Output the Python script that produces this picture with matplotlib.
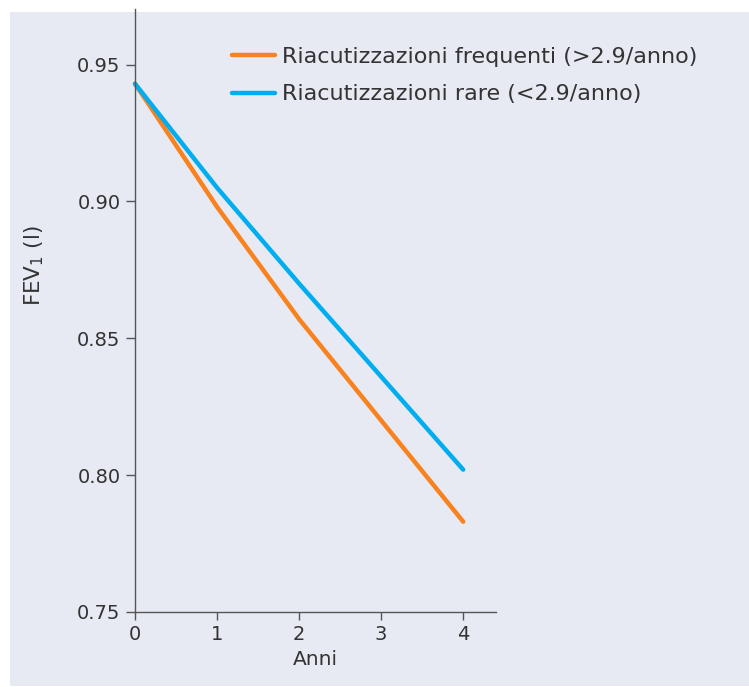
import matplotlib
matplotlib.use("Agg")
import matplotlib.pyplot as plt
from matplotlib.patches import Rectangle

# data
anni = [0, 1, 2, 3, 4]
fev_frequenti = [0.943, 0.898, 0.857, 0.820, 0.783]
fev_rare = [0.943, 0.905, 0.870, 0.836, 0.802]
label_frequenti = "Riacutizzazioni frequenti (>2.9/anno)"
label_rare = "Riacutizzazioni rare (<2.9/anno)"
y_ticks = [0.75, 0.80, 0.85, 0.90, 0.95]

W, H = 749, 687
txt = "#333333"
bg = "#e7e9f3"

plt.rcParams['font.family'] = ['DejaVu Sans']
plt.rcParams['mathtext.fontset'] = 'dejavusans'

fig = plt.figure(figsize=(W / 100, H / 100), dpi=100)
fig.patch.set_facecolor("white")

ax = fig.add_axes([135 / W, 1 - 612 / H, (496 - 135) / W, (612 - 9) / H])
ax.set_facecolor("none")
ax.set_zorder(2)

# lavender panel behind the plot
fig.patches.append(Rectangle((10 / W, 1 - 686 / H), (W - 10) / W, (686 - 12) / H,
                             transform=fig.transFigure, facecolor=bg,
                             edgecolor="none", zorder=-10))

ax.plot(anni, fev_frequenti, color="#f7821e", lw=3.2, label=label_frequenti,
        solid_capstyle="round", clip_on=False)
ax.plot(anni, fev_rare, color="#00aeef", lw=3.2, label=label_rare,
        solid_capstyle="round", clip_on=False)

ax.set_xlim(0, 4.4)
ax.set_ylim(0.75, 0.9703)
ax.set_xticks(anni)
ax.set_yticks(y_ticks)
ax.set_yticklabels([f"{v:.2f}" for v in y_ticks])

for s in ("top", "right"):
    ax.spines[s].set_visible(False)
for s in ("left", "bottom"):
    ax.spines[s].set_color("#555555")
    ax.spines[s].set_linewidth(1.0)

ax.tick_params(axis="x", direction="out", length=6, width=1, colors="#555555",
               labelcolor=txt, labelsize=14, pad=3)
ax.tick_params(axis="y", direction="out", length=6.5, width=1, colors="#555555",
               labelcolor=txt, labelsize=14, pad=4)

ax.set_xlabel("Anni", fontsize=14.5, color=txt, labelpad=5)
ax.set_ylabel("FEV$_1$ (l)", fontsize=15.5, color=txt, va="center")
ax.yaxis.set_label_coords((34.5 - 135) / 361, (612 - 266) / 603)

leg = ax.legend(loc="upper left", bbox_to_anchor=(0.213, 0.97), frameon=False,
                fontsize=16, handlelength=1.95, handletextpad=0.3,
                labelspacing=0.78, labelcolor=txt)

fig.savefig("out.png", dpi=100)
